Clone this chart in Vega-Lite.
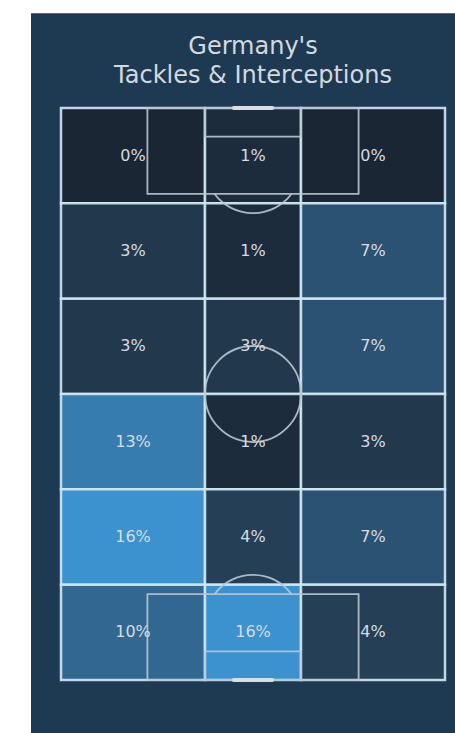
{
  "$schema": "https://vega.github.io/schema/vega-lite/v6.json",
  "width": 384,
  "height": 572,
  "autosize": "none",
  "padding": {"left": 61, "top": 108, "right": 10, "bottom": 53},
  "background": "white",
  "config": {"view": {"stroke": null}},
  "title": {
    "text": ["Germany's", "Tackles & Interceptions"],
    "font": "DejaVu Sans",
    "fontSize": 24,
    "fontWeight": "normal",
    "color": "#d3d9de",
    "lineHeight": 29,
    "baseline": "bottom",
    "anchor": "middle",
    "frame": "group",
    "offset": -99
  },
  "datasets": {
    "frame": [{"x": -6.25, "x2": 82.1, "y": -19.9, "y2": 131.2}],
    "cells": [
      {"x": 0, "x2": 30, "y": 0, "y2": 20, "pct": 0},
      {"x": 30, "x2": 50, "y": 0, "y2": 20, "pct": 1},
      {"x": 50, "x2": 80, "y": 0, "y2": 20, "pct": 0},
      {"x": 0, "x2": 30, "y": 20, "y2": 40, "pct": 3},
      {"x": 30, "x2": 50, "y": 20, "y2": 40, "pct": 1},
      {"x": 50, "x2": 80, "y": 20, "y2": 40, "pct": 7},
      {"x": 0, "x2": 30, "y": 40, "y2": 60, "pct": 3},
      {"x": 30, "x2": 50, "y": 40, "y2": 60, "pct": 3},
      {"x": 50, "x2": 80, "y": 40, "y2": 60, "pct": 7},
      {"x": 0, "x2": 30, "y": 60, "y2": 80, "pct": 13},
      {"x": 30, "x2": 50, "y": 60, "y2": 80, "pct": 1},
      {"x": 50, "x2": 80, "y": 60, "y2": 80, "pct": 3},
      {"x": 0, "x2": 30, "y": 80, "y2": 100, "pct": 16},
      {"x": 30, "x2": 50, "y": 80, "y2": 100, "pct": 4},
      {"x": 50, "x2": 80, "y": 80, "y2": 100, "pct": 7},
      {"x": 0, "x2": 30, "y": 100, "y2": 120, "pct": 10},
      {"x": 30, "x2": 50, "y": 100, "y2": 120, "pct": 16},
      {"x": 50, "x2": 80, "y": 100, "y2": 120, "pct": 4}
    ],
    "boxes": [
      {"x": 18, "x2": 62, "y": 0, "y2": 18},
      {"x": 30, "x2": 50, "y": 0, "y2": 6},
      {"x": 18, "x2": 62, "y": 102, "y2": 120},
      {"x": 30, "x2": 50, "y": 114, "y2": 120}
    ],
    "goals": [
      {"x": 36, "x2": 44, "y": 0},
      {"x": 36, "x2": 44, "y": 120}
    ],
    "circle": [{"x": 40, "y": 60}],
    "arcs": [
      {"x": 40, "y": 12, "a0": 2.214, "a1": 4.069},
      {"x": 40, "y": 108, "a0": -0.927, "a1": 0.927}
    ]
  },
  "layer": [
    {
      "data": {"name": "frame"},
      "mark": {"type": "rect", "fill": "#1e3a52", "clip": false},
      "encoding": {
        "x": {"field": "x", "type": "quantitative", "scale": {"domain": [0, 80], "nice": false, "zero": false}, "axis": null},
        "x2": {"field": "x2"},
        "y": {"field": "y", "type": "quantitative", "scale": {"domain": [0, 120], "nice": false, "zero": false, "reverse": true}, "axis": null},
        "y2": {"field": "y2"}
      }
    },
    {
      "data": {"name": "cells"},
      "mark": {"type": "rect", "stroke": "#d2e9f4", "strokeWidth": 2.5, "strokeOpacity": 0.9},
      "encoding": {
        "x": {"field": "x", "type": "quantitative"},
        "x2": {"field": "x2"},
        "y": {"field": "y", "type": "quantitative"},
        "y2": {"field": "y2"},
        "fill": {"field": "pct", "type": "quantitative", "scale": {"domain": [0, 16], "range": ["#1a2633", "#3b92cf"]}, "legend": null}
      }
    },
    {
      "data": {"name": "boxes"},
      "mark": {"type": "rect", "fill": null, "stroke": "#b9c8d2", "strokeWidth": 1.8, "strokeOpacity": 0.9},
      "encoding": {
        "x": {"field": "x", "type": "quantitative"},
        "x2": {"field": "x2"},
        "y": {"field": "y", "type": "quantitative"},
        "y2": {"field": "y2"}
      }
    },
    {
      "data": {"name": "circle"},
      "mark": {"type": "point", "shape": "circle", "filled": false, "size": 9216, "stroke": "#b9c8d2", "strokeWidth": 1.8, "opacity": 0.9},
      "encoding": {
        "x": {"field": "x", "type": "quantitative"},
        "y": {"field": "y", "type": "quantitative"}
      }
    },
    {
      "data": {"name": "arcs"},
      "mark": {"type": "arc", "radius": 48.9, "radius2": 47.1, "fill": "#b9c8d2", "opacity": 0.9},
      "encoding": {
        "x": {"field": "x", "type": "quantitative"},
        "y": {"field": "y", "type": "quantitative"},
        "theta": {"field": "a0", "type": "quantitative", "scale": null},
        "theta2": {"field": "a1"}
      }
    },
    {
      "data": {"name": "goals"},
      "mark": {"type": "rule", "stroke": "#d8dde2", "strokeWidth": 4, "strokeCap": "round", "clip": false},
      "encoding": {
        "x": {"field": "x", "type": "quantitative"},
        "x2": {"field": "x2"},
        "y": {"field": "y", "type": "quantitative"}
      }
    },
    {
      "data": {"name": "cells"},
      "transform": [
        {"calculate": "(datum.x + datum.x2) / 2", "as": "cx"},
        {"calculate": "(datum.y + datum.y2) / 2", "as": "cy"},
        {"calculate": "datum.pct + '%'", "as": "label"}
      ],
      "mark": {"type": "text", "font": "DejaVu Sans", "fontSize": 16, "color": "#d6dce1", "align": "center", "baseline": "middle"},
      "encoding": {
        "x": {"field": "cx", "type": "quantitative"},
        "y": {"field": "cy", "type": "quantitative"},
        "text": {"field": "label", "type": "nominal"}
      }
    }
  ]
}
